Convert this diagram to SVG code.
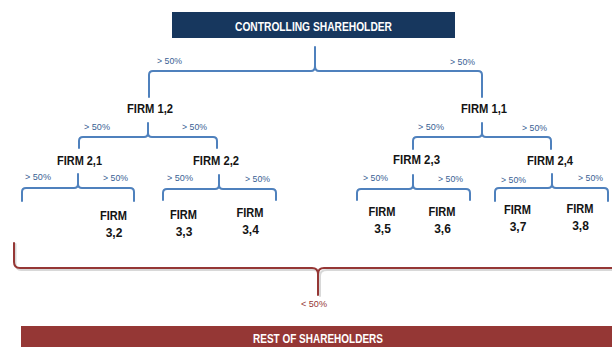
<svg xmlns="http://www.w3.org/2000/svg" width="612" height="347" viewBox="0 0 612 347">
  <style>
    .bg { fill: #ffffff; }
    .banner-top { fill: #17375e; }
    .banner-bottom { fill: #953735; }
    .banner-text { font-family: "Liberation Sans", Arial, sans-serif; font-weight: bold; font-size: 12px; fill: #ffffff; text-anchor: middle; }
    .firm { font-family: "Liberation Sans", Arial, sans-serif; font-weight: bold; font-size: 12px; fill: #141414; text-anchor: middle; }
    .brace { fill: none; stroke: #4f81bd; stroke-width: 2; stroke-linecap: round; stroke-linejoin: round; }
    .brace-red { fill: none; stroke: #953735; stroke-width: 2; stroke-linecap: round; stroke-linejoin: round; }
    .brace-shadow { fill: none; stroke: #c8c8c8; stroke-width: 2; stroke-linecap: round; stroke-linejoin: round; opacity: 0.7; }
    .pct { font-family: "Liberation Sans", Arial, sans-serif; font-size: 9px; fill: #3a5f94; }
    .pct-red { font-family: "Liberation Sans", Arial, sans-serif; font-size: 9px; fill: #953735; }
  </style>

  <rect class="bg" x="0" y="0" width="612" height="347"/>

  <!-- top owner -->
  <g id="controlling-shareholder">
    <rect class="banner-top" x="172" y="12" width="283" height="26"/>
    <text class="banner-text" x="313.5" y="30.5" textLength="157" lengthAdjust="spacingAndGlyphs">CONTROLLING SHAREHOLDER</text>
  </g>

  <!-- first tier -->
  <g id="firm-1-2"><text class="firm" x="150" y="113" textLength="46" lengthAdjust="spacingAndGlyphs">FIRM 1,2</text></g>
  <g id="firm-1-1"><text class="firm" x="484" y="113" textLength="46" lengthAdjust="spacingAndGlyphs">FIRM 1,1</text></g>

  <!-- second tier -->
  <g id="firm-2-1"><text class="firm" x="79.5" y="164.5" textLength="45" lengthAdjust="spacingAndGlyphs">FIRM 2,1</text></g>
  <g id="firm-2-2"><text class="firm" x="216" y="165" textLength="46" lengthAdjust="spacingAndGlyphs">FIRM 2,2</text></g>
  <g id="firm-2-3"><text class="firm" x="416.5" y="164" textLength="47" lengthAdjust="spacingAndGlyphs">FIRM 2,3</text></g>
  <g id="firm-2-4"><text class="firm" x="550" y="165" textLength="46" lengthAdjust="spacingAndGlyphs">FIRM 2,4</text></g>

  <!-- third tier -->
  <g id="firm-3-2">
    <text class="firm" x="113.5" y="220" textLength="27" lengthAdjust="spacingAndGlyphs">FIRM</text>
    <text class="firm" x="114" y="236.5">3,2</text>
  </g>
  <g id="firm-3-3">
    <text class="firm" x="183.5" y="219" textLength="27" lengthAdjust="spacingAndGlyphs">FIRM</text>
    <text class="firm" x="184" y="236">3,3</text>
  </g>
  <g id="firm-3-4">
    <text class="firm" x="250" y="217" textLength="27" lengthAdjust="spacingAndGlyphs">FIRM</text>
    <text class="firm" x="250.5" y="234">3,4</text>
  </g>
  <g id="firm-3-5">
    <text class="firm" x="382" y="216" textLength="27" lengthAdjust="spacingAndGlyphs">FIRM</text>
    <text class="firm" x="382.5" y="233">3,5</text>
  </g>
  <g id="firm-3-6">
    <text class="firm" x="442" y="216" textLength="27" lengthAdjust="spacingAndGlyphs">FIRM</text>
    <text class="firm" x="442.5" y="233">3,6</text>
  </g>
  <g id="firm-3-7">
    <text class="firm" x="517.5" y="214" textLength="27" lengthAdjust="spacingAndGlyphs">FIRM</text>
    <text class="firm" x="518" y="231">3,7</text>
  </g>
  <g id="firm-3-8">
    <text class="firm" x="580" y="213" textLength="27" lengthAdjust="spacingAndGlyphs">FIRM</text>
    <text class="firm" x="580.5" y="229.5">3,8</text>
  </g>

  <!-- minority owners -->
  <g id="rest-of-shareholders">
    <rect class="banner-bottom" x="21" y="326" width="591" height="21"/>
    <text class="banner-text" x="318" y="343" textLength="130" lengthAdjust="spacingAndGlyphs">REST OF SHAREHOLDERS</text>
  </g>

  <!-- braces and their share labels -->
  <g id="connectors">
    <!-- controlling shareholder -> firms 1,x -->
    <path class="brace" d="M149 97 V75 Q149 71 153 71 H311 Q315 71 315 66 V47 M315 66 Q315 71 319 71 H478 Q482 71 482 75 V97"/>
    <text class="pct" x="157" y="64" textLength="25" lengthAdjust="spacingAndGlyphs">&gt; 50%</text>
    <text class="pct" x="450" y="64.5" textLength="25" lengthAdjust="spacingAndGlyphs">&gt; 50%</text>

    <!-- firm 1,2 -> firms 2,1 / 2,2 -->
    <path class="brace" d="M79 148 V141 Q79 137 83 137 H144 Q148 137 148 133 V123 M148 133 Q148 137 152 137 H213 Q217 137 217 141 V148"/>
    <text class="pct" x="84" y="130" textLength="26" lengthAdjust="spacingAndGlyphs">&gt; 50%</text>
    <text class="pct" x="182" y="130" textLength="25" lengthAdjust="spacingAndGlyphs">&gt; 50%</text>

    <!-- firm 1,1 -> firms 2,3 / 2,4 -->
    <path class="brace" d="M413 149 V141 Q413 137 417 137 H478 Q482 137 482 133 V123 M482 133 Q482 137 486 137 H547 Q551 137 551 141 V149"/>
    <text class="pct" x="418" y="129.5" textLength="26" lengthAdjust="spacingAndGlyphs">&gt; 50%</text>
    <text class="pct" x="522" y="130.5" textLength="25" lengthAdjust="spacingAndGlyphs">&gt; 50%</text>

    <!-- firm 2,1 -> firm 3,2 -->
    <path class="brace" d="M22 201 V192 Q22 188 26 188 H74 Q78 188 78 184 V174 M78 184 Q78 188 82 188 H130 Q134 188 134 192 V201"/>
    <text class="pct" x="25" y="180" textLength="26" lengthAdjust="spacingAndGlyphs">&gt; 50%</text>
    <text class="pct" x="103" y="180.5" textLength="25" lengthAdjust="spacingAndGlyphs">&gt; 50%</text>

    <!-- firm 2,2 -> firms 3,3 / 3,4 -->
    <path class="brace" d="M163 200 V193 Q163 189 167 189 H215 Q219 189 219 185 V175 M219 185 Q219 189 223 189 H272 Q276 189 276 193 V200"/>
    <text class="pct" x="167" y="181" textLength="26" lengthAdjust="spacingAndGlyphs">&gt; 50%</text>
    <text class="pct" x="245" y="182" textLength="25" lengthAdjust="spacingAndGlyphs">&gt; 50%</text>

    <!-- firm 2,3 -> firms 3,5 / 3,6 -->
    <path class="brace" d="M357 200 V193 Q357 189 361 189 H409 Q413 189 413 185 V175 M413 185 Q413 189 417 189 H466 Q470 189 470 193 V200"/>
    <text class="pct" x="363" y="181" textLength="25" lengthAdjust="spacingAndGlyphs">&gt; 50%</text>
    <text class="pct" x="438" y="181.5" textLength="25" lengthAdjust="spacingAndGlyphs">&gt; 50%</text>

    <!-- firm 2,4 -> firms 3,7 / 3,8 -->
    <path class="brace" d="M495 201 V192 Q495 188 499 188 H548 Q552 188 552 184 V174 M552 184 Q552 188 556 188 H604 Q608 188 608 192 V201"/>
    <text class="pct" x="501" y="183" textLength="25" lengthAdjust="spacingAndGlyphs">&gt; 50%</text>
    <text class="pct" x="578" y="180.5" textLength="25" lengthAdjust="spacingAndGlyphs">&gt; 50%</text>

    <!-- third-tier firms -> rest of shareholders -->
    <path class="brace-shadow" d="M15.5 244 V264 Q16 270 21 270 H313 Q320 270 320 276 V296 M320 276 Q320 270 327 270 H614"/>
    <path class="brace-red" d="M14 243 V262 Q14 268 20 268 H312 Q318 268 318 274 V295 M318 274 Q318 268 324 268 H614"/>
    <text class="pct-red" x="301" y="307" textLength="26" lengthAdjust="spacingAndGlyphs">&lt; 50%</text>
  </g>
</svg>
